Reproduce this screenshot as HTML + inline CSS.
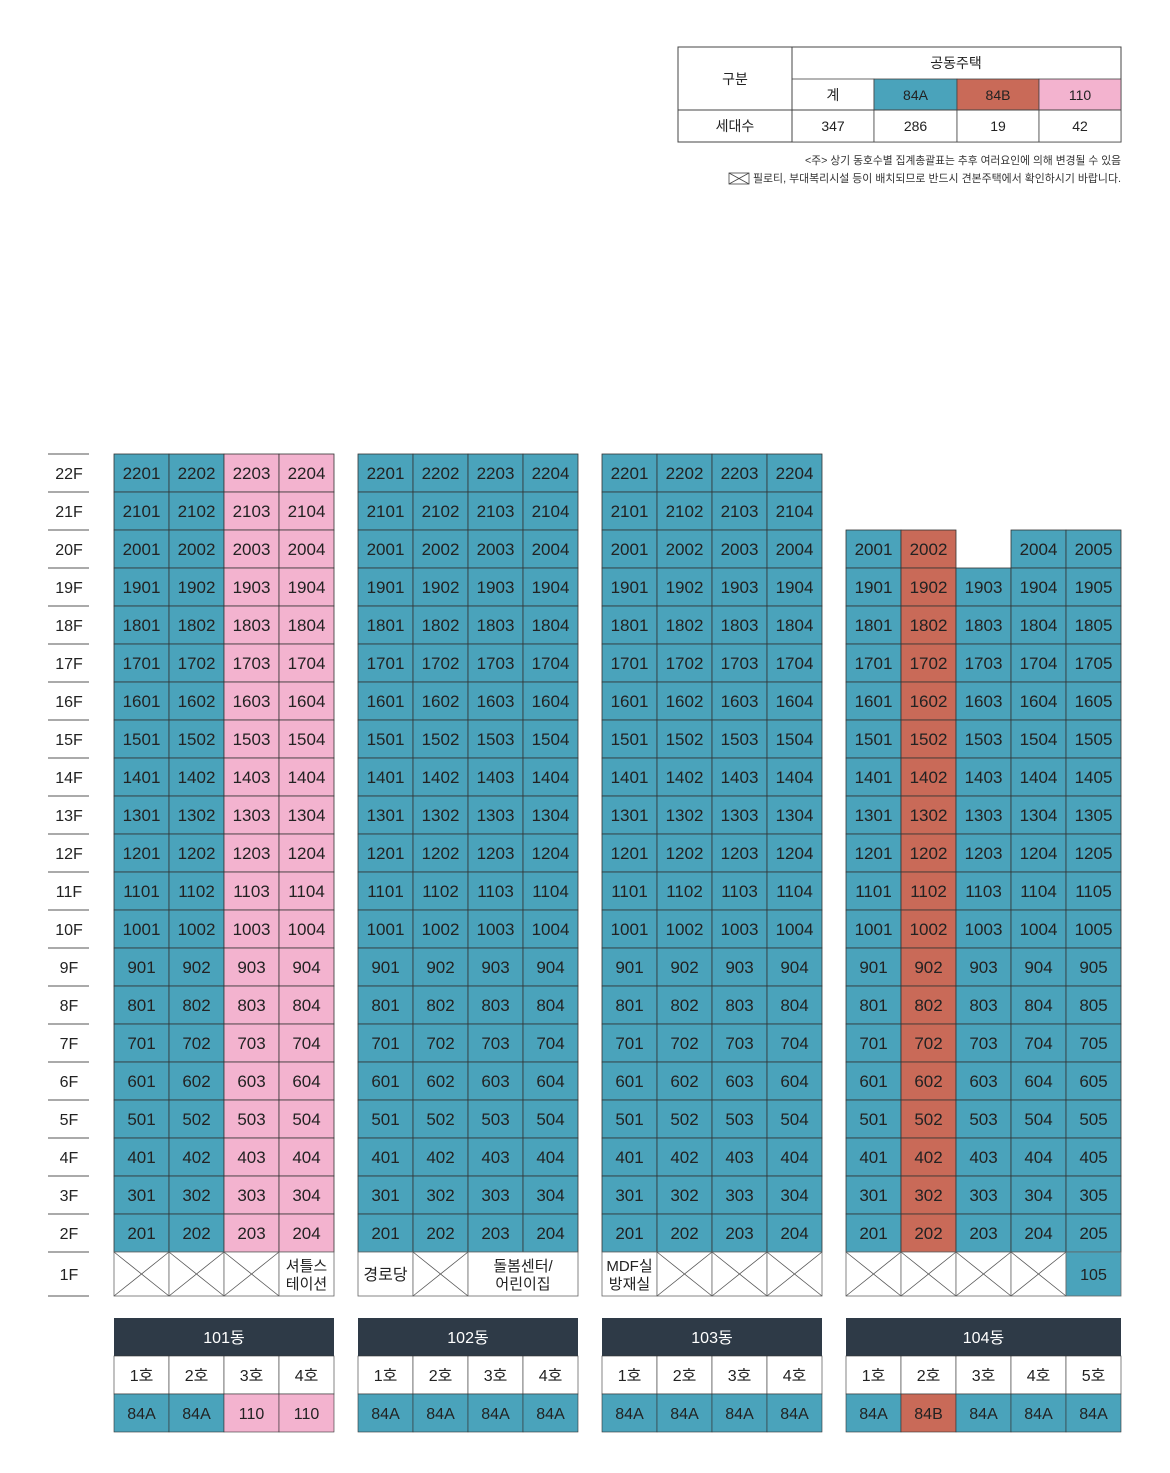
<!DOCTYPE html>
<html><head><meta charset="utf-8">
<style>
body{margin:0;background:#fff;}
svg{display:block;font-family:"Liberation Sans","Noto Sans CJK KR",sans-serif;}
</style></head>
<body>
<svg id="s" width="1170" height="1473" xmlns="http://www.w3.org/2000/svg"></svg>
<script>
const BLUE='#4aa3bb',PINK='#f3b3cf',RED='#c96a58',DARK='#2e3a47',LINE='#333';
const buildings=['101동','102동','103동','104동'];
const buildingX=[114,358,602,846];
const buildingCols=[4,4,4,5];
const buildingTop=[22,22,22,20];
const colTypes=[['84A','84A','110','110'],['84A','84A','84A','84A'],['84A','84A','84A','84A'],['84A','84B','84A','84A','84A']];
const floors=[22,21,20,19,18,17,16,15,14,13,12,11,10,9,8,7,6,5,4,3,2];
const firstFloor=[['X','X','X','셔틀스|테이션'],['경로당','X','돌봄센터/|어린이집*2'],['MDF실|방재실','X','X','X'],['X','X','X','X','105']];
const summaryTypes=['계','84A','84B','110'];
const summaryCounts=['347','286','19','42'];
const colorOf={'84A':BLUE,'84B':RED,'110':PINK};
const s=document.getElementById('s');
const NS='http://www.w3.org/2000/svg';
function el(tag,attrs,txt){const e=document.createElementNS(NS,tag);for(const k in attrs)e.setAttribute(k,attrs[k]);if(txt!=null)e.textContent=txt;s.appendChild(e);return e;}
const CW=55,RH=38,TOP=454;
const yOf=f=>TOP+(22-f)*RH;
floors.concat([1]).forEach(f=>{
  const y=f===1?1252:yOf(f);const h=f===1?44:RH;
  const t=el('text',{x:69,y:y+h/2+6,'text-anchor':'middle','font-size':16,fill:'#222'},f+'F');
  
  
  const l=el('line',{x1:48,x2:89,y1:y,y2:y,stroke:'#555','stroke-width':1});
  
  
});
el('line',{x1:48,x2:89,y1:1296,y2:1296,stroke:'#555'});
buildings.forEach((b,bi)=>{
  const x0=buildingX[bi];
  floors.forEach(f=>{
    if(f>buildingTop[bi])return;
    for(let c=0;c<buildingCols[bi];c++){
      if(bi===3&&f===20&&c===2)continue;
      const x=x0+c*CW,y=yOf(f);
      const r=el('rect',{x:x,y:y,width:CW,height:RH,fill:colorOf[colTypes[bi][c]],stroke:LINE,'stroke-width':0.8});
      
      
      el('text',{x:x+CW/2,y:y+RH/2+6,'text-anchor':'middle','font-size':17,fill:'#222'},f+String(c+1).padStart(2,'0'));
    }
  });
  let c=0;
  firstFloor[bi].forEach(it=>{
    let span=1,label=it;
    if(it.includes('*')){const p=it.split('*');label=p[0];span=+p[1];}
    const x=x0+c*CW,y=1252,w=CW*span,h=44;
    const isUnit=/^\d+$/.test(label);
    const r=el('rect',{x:x,y:y,width:w,height:h,fill:isUnit?BLUE:'#fff',stroke:'#666','stroke-width':0.8});
    
    
    if(label==='X'){
      el('line',{x1:x,y1:y,x2:x+w,y2:y+h,stroke:'#555','stroke-width':0.8});
      el('line',{x1:x+w,y1:y,x2:x,y2:y+h,stroke:'#555','stroke-width':0.8});
    }else{
      const lines=label.split('|');
      lines.forEach((ln,i)=>{
        el('text',{x:x+w/2,y:y+h/2+6+(i-(lines.length-1)/2)*18,'text-anchor':'middle','font-size':lines.length>1?15:16,fill:'#222'},ln);
      });
    }
    c+=span;
  });
  const W=CW*buildingCols[bi];
  const hd=el('rect',{x:x0,y:1318,width:W,height:38,fill:DARK});
  
  
  el('text',{x:x0+W/2,y:1343,'text-anchor':'middle','font-size':16,fill:'#fff'},b);
  for(let k=0;k<buildingCols[bi];k++){
    const x=x0+k*CW;
    el('rect',{x:x,y:1356,width:CW,height:38,fill:'#fff',stroke:LINE,'stroke-width':0.6});
    el('text',{x:x+CW/2,y:1381,'text-anchor':'middle','font-size':16,fill:'#222'},(k+1)+'호');
    const tr=el('rect',{x:x,y:1394,width:CW,height:38,fill:colorOf[colTypes[bi][k]],stroke:LINE,'stroke-width':0.6});
    
    
    el('text',{x:x+CW/2,y:1419,'text-anchor':'middle','font-size':16,fill:'#222'},colTypes[bi][k]);
  }
});
const tb=el('rect',{x:678,y:47,width:443,height:95,fill:'#fff',stroke:'#444','stroke-width':1});


const sx=[792,874,957,1039,1121];
const sFill=['#fff',BLUE,RED,PINK];
for(let i=0;i<4;i++){
  el('rect',{x:sx[i],y:79,width:sx[i+1]-sx[i],height:31,fill:sFill[i],stroke:'#444','stroke-width':0.8});
  el('text',{x:(sx[i]+sx[i+1])/2,y:100,'text-anchor':'middle','font-size':14,fill:'#222'},summaryTypes[i]);
  el('rect',{x:sx[i],y:110,width:sx[i+1]-sx[i],height:32,fill:'#fff',stroke:'#444','stroke-width':0.8});
  el('text',{x:(sx[i]+sx[i+1])/2,y:131,'text-anchor':'middle','font-size':14,fill:'#222'},summaryCounts[i]);
}
el('line',{x1:792,y1:47,x2:792,y2:142,stroke:'#444'});
el('line',{x1:678,y1:110,x2:1121,y2:110,stroke:'#444'});
el('text',{x:735,y:84,'text-anchor':'middle','font-size':14,fill:'#222'},'구분');
el('text',{x:956,y:68,'text-anchor':'middle','font-size':14,fill:'#222'},'공동주택');
el('text',{x:735,y:131,'text-anchor':'middle','font-size':14,fill:'#222'},'세대수');
el('text',{x:805,y:164,'font-size':11,fill:'#333',textLength:316,lengthAdjust:'spacingAndGlyphs'},'<주> 상기 동호수별 집계총괄표는 추후 여러요인에 의해 변경될 수 있음');
el('text',{x:753,y:182,'font-size':11,fill:'#333',textLength:368,lengthAdjust:'spacingAndGlyphs'},'필로티, 부대복리시설 등이 배치되므로 반드시 견본주택에서 확인하시기 바랍니다.');
el('rect',{x:729,y:173,width:20,height:11,fill:'none',stroke:'#444','stroke-width':0.8});
el('line',{x1:729,y1:173,x2:749,y2:184,stroke:'#444','stroke-width':0.8});
el('line',{x1:749,y1:173,x2:729,y2:184,stroke:'#444','stroke-width':0.8});
</script>
</body></html>
